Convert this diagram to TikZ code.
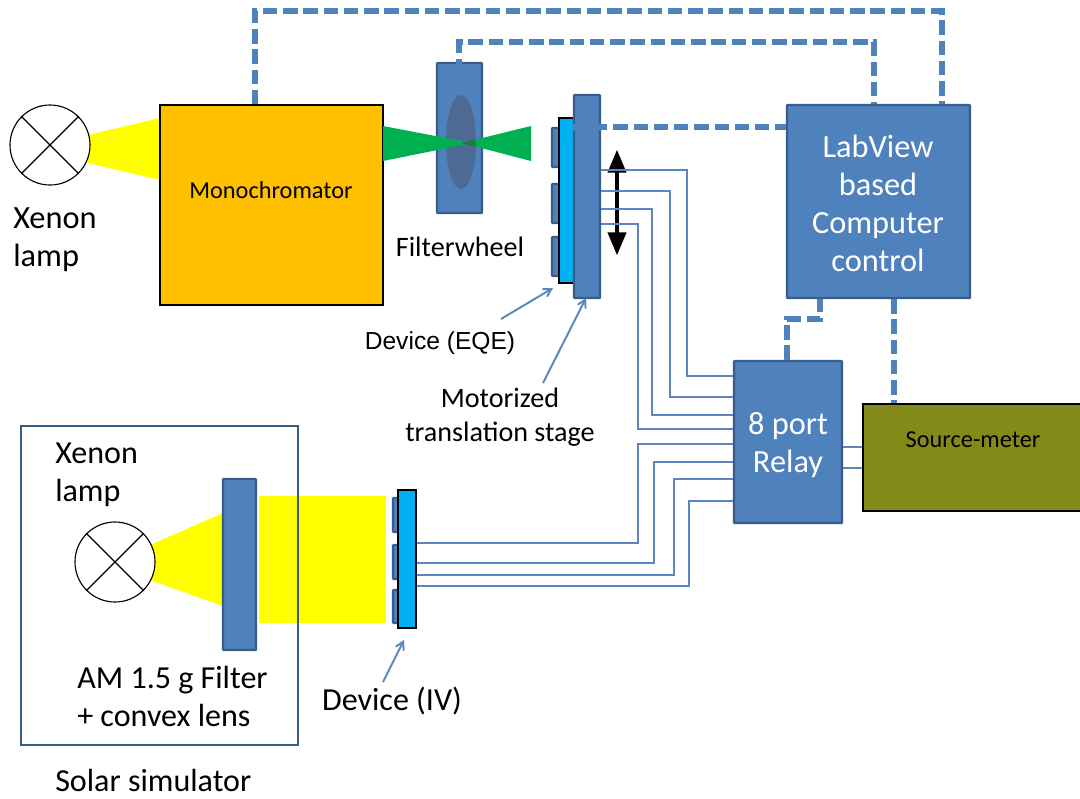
\documentclass[tikz,border=0pt]{standalone}
\usepackage{fontspec}
\setmainfont{Carlito}
\newfontfamily\arialfont{Liberation Sans}
\usetikzlibrary{arrows, positioning, fit, shapes, shapes.misc}
\definecolor{boxblue}{HTML}{4F81BD}
\definecolor{edgeblue}{HTML}{385D8A}
\definecolor{wireblue}{HTML}{5B87BF}
\definecolor{cyanblue}{HTML}{00B0F0}
\definecolor{olivebox}{HTML}{848A17}
\definecolor{lensgrey}{HTML}{4D6A94}
\definecolor{beamgreen}{HTML}{00B050}
\definecolor{darkbeam}{HTML}{1F7A3C}
\definecolor{monoorange}{HTML}{FFC000}
\definecolor{beamyellow}{HTML}{FFFF00}
\begin{document}
\begin{tikzpicture}[x=0.025cm,
			y=-0.025cm,
			bluebox/.style={draw=edgeblue, fill=boxblue, line width=1.7pt, rounded corners=0.5pt, inner sep=0pt},
			blackbox/.style={draw=black, line width=1pt, inner sep=0pt},
			lamp/.style={draw=black, fill=white, circle, line width=0.8pt, minimum size=2cm, inner sep=0pt},
			dashwire/.style={draw=boxblue, line width=3.6pt, dash pattern=on 10.2pt off 4.2pt},
			wire/.style={draw=wireblue, line width=1pt},
			pointer/.style={->, >=angle 60, draw=wireblue, line width=1.4pt},
			bigtext/.style={font=\fontsize{23}{27}\selectfont, align=center, inner sep=0pt},
			lowtext/.style={font=\fontsize{22.8}{27}\selectfont, align=left, inner sep=0pt},
			midtext/.style={font=\fontsize{17.3}{20}\selectfont, align=center, inner sep=0pt}]
			\useasboundingbox (0,0) rectangle (1080,798);

			% beams
			\fill[beamyellow] (88,135) -- (160,118) -- (160,180) -- (88,163) -- cycle;
			\fill[beamyellow] (150,545) -- (223,513) -- (223,606) -- (150,580) -- cycle;
			\fill[beamyellow] (259,496) rectangle (386,623);

			% solar simulator frame
			\node[draw=edgeblue, line width=1.8pt, inner sep=0pt, fit={(21,426) (298,745)}] (simulator) {};

			% upper branch
			\node[lamp] (lampa) at (50,145) {};
			\draw[line width=0.8pt] (lampa.north west) -- (lampa.south east);
			\draw[line width=0.8pt] (lampa.north east) -- (lampa.south west);
			\node[blackbox, fill=monoorange, fit={(160,105) (383,305)}] (mono) {};
			\node[midtext] (monolabel) at (271,190) {Monochromator};
			\node[bluebox, fit={(437,63) (482,213)}] (wheel) {};
			\fill[beamgreen] (531,126) -- (531,161) -- (462,143) -- cycle;
			\node[fill=lensgrey, ellipse, minimum width=0.75cm, minimum height=2.35cm, inner sep=0pt] (lens) at (461,142) {};
			\fill[beamgreen] (383,126) -- (472,143) -- (383,161) -- cycle;
			\fill[darkbeam] (461,143) -- (470,140.5) -- (475,140) -- (475,146) -- (470,145.5) -- cycle;
			\node[bluebox, fit={(552,128) (562,167)}] (pada) {};
			\node[bluebox, fit={(552,184) (562,223)}] (padb) {};
			\node[bluebox, fit={(552,237) (562,276)}] (padc) {};
			\node[blackbox, fill=cyanblue, fit={(559,118) (576,283)}] (eqe) {};
			\node[bluebox, fit={(574,95) (600,298)}] (stage) {};
			\draw[<->, >=triangle 45, line width=2.8pt] (617,150) -- (617,255);

			% lower branch
			\node[lamp] (lampb) at (115,562) {};
			\draw[line width=0.8pt] (lampb.north west) -- (lampb.south east);
			\draw[line width=0.8pt] (lampb.north east) -- (lampb.south west);
			\node[bluebox, fit={(223,479) (256,650)}] (filter) {};
			\node[bluebox, fit={(393,498) (400,532)}] (padd) {};
			\node[bluebox, fit={(393,545) (400,579)}] (pade) {};
			\node[bluebox, fit={(393,590) (400,623)}] (padf) {};
			\node[blackbox, fill=cyanblue, fit={(398,490) (416,628)}] (iv) {};

			% control and relay
			\node[bluebox, fit={(787,105) (970,298)}] (labview) {};
			\node[bigtext, text=white] (labviewlabel) at (878,203) {LabView\\based\\Computer\\control};
			\node[bluebox, fit={(734,361) (842,523)}] (relay) {};
			\node[bigtext, text=white] (relaylabel) at (788,445) {8 port\\Relay};
			\node[blackbox, fill=olivebox, fit={(863,404) (1082,511)}] (meter) {};
			\node[midtext] (meterlabel) at (973,440) {Source-meter};

			% signal wires
			\foreach \ya/\xm/\yb in {170/687/376, 191/670/397, 209/652/415, 224/638/429}
				\draw[wire] (stage.east |- 0,\ya) -| (\xm,\yb) -- (relay.west |- 0,\yb);
			\foreach \ya/\xm/\yb in {543/638/444, 563/654/462, 575/674/479, 586/689/501}
				\draw[wire] (iv.east |- 0,\ya) -| (\xm,\yb) -- (relay.west |- 0,\yb);
			\draw[wire] (relay.east |- 0,447) -- (meter.west |- 0,447);
			\draw[wire] (relay.east |- 0,468) -- (meter.west |- 0,468);

			% control lines
			\draw[dashwire] (mono.north -| 255,0) -- (255,11) -- (942,11) -- (labview.north -| 942,0);
			\draw[dashwire, shorten <=-8pt] (wheel.north -| 459,0) -- (459,42) -- (874,42) -- (labview.north -| 874,0);
			\draw[dashwire] (stage.west |- 0,127) -- (labview.west |- 0,127);
			\draw[dashwire] (relay.north -| 787,0) -- (787,319) -- (820,319) -- (labview.south -| 820,0);
			\draw[dashwire] (labview.south -| 894,0) -- (meter.north -| 894,0);

			% labels
			\node[bigtext, align=left, anchor=north west] (xenona) at (13,207) {Xenon\\lamp};
			\node[font=\fontsize{20}{24}\selectfont, inner sep=0pt] (wheellabel) at (460,247) {Filterwheel};
			\node[font=\arialfont\fontsize{17.5}{20}\selectfont, inner sep=0pt] (eqelabel) at (440,343) {Device (EQE)};
			\node[font=\fontsize{20}{24.5}\selectfont, align=center, inner sep=0pt] (stagelabel) at (500,417) {Motorized\\translation stage};
			\node[lowtext, anchor=north west] (xenonb) at (55,443) {Xenon\\lamp};
			\node[lowtext, anchor=north west] (filterlabel) at (77,666) {AM 1.5 g Filter\\+ convex lens};
			\node[lowtext] (ivlabel) at (392,701) {Device (IV)};
			\node[lowtext, anchor=west] (simlabel) at (55,780) {Solar simulator};

			% pointers
			\coordinate (eqefoot) at (501,319);
			\coordinate (eqetip) at (553,288);
			\coordinate (stagefoot) at (543,383);
			\coordinate (stagetip) at (586,298);
			\coordinate (ivfoot) at (383,682);
			\coordinate (ivtip) at (404,640);
			\draw[pointer] (eqefoot) -- (eqetip);
			\draw[pointer] (stagefoot) -- (stagetip);
			\draw[pointer] (ivfoot) -- (ivtip);
		\end{tikzpicture}
\end{document}
